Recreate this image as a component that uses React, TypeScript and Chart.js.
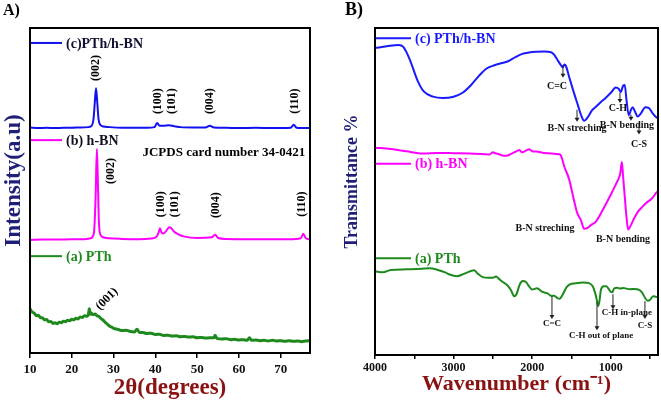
import React, { useEffect, useRef } from "react";
import { Chart, registerables } from "chart.js";

Chart.register(...registerables);

const FONT = "'Liberation Serif', 'Times New Roman', serif";
Chart.defaults.font.family = FONT;

// ---------- Panel A : XRD ----------
const xrdTicks = [10, 20, 30, 40, 50, 60, 70];

// [2θ, intensity (a.u., stacked)]
const xrdComposite: [number, number][] = [
  [10, 69.4], [12, 69.2], [14, 69.3], [16, 69.2], [18, 69.3], [20, 69.3], [22, 69.4], [24, 69.5],
  [24.8, 70], [25.2, 72], [25.5, 77], [25.8, 81.5], [26.1, 77], [26.4, 72], [26.8, 70.2], [27.5, 69.7],
  [29, 69.5], [32, 69.3], [35, 69.3], [38, 69.3], [39.8, 69.5], [40.4, 70.8], [41, 69.9], [42, 69.9],
  [43.2, 70.1], [44.5, 69.8], [46, 69.5], [49, 69.4], [52, 69.4], [53, 69.9], [54, 69.4], [57, 69.3],
  [60, 69.2], [64, 69.3], [68, 69.2], [72.4, 69.3], [73.1, 70.2], [73.8, 69.3], [75, 69.2], [77, 69.2],
];

const xrdHBN: [number, number][] = [
  [10, 34.8], [13, 34.9], [16, 34.9], [20, 35.0], [23, 35.0], [24.5, 35.3], [25.3, 37], [25.7, 48],
  [26.0, 62.8], [26.2, 55], [26.5, 40], [26.9, 36.3], [27.5, 35.6], [29, 35.3], [32, 35.1], [36, 35.0],
  [39, 35.2], [40.3, 35.8], [40.8, 37.2], [41.1, 38.4], [41.5, 37.0], [42.0, 36.8], [42.6, 37.6],
  [43.3, 38.7], [43.8, 38.4], [44.5, 37.3], [45.5, 36.5], [47, 35.8], [50, 35.4], [53.5, 35.6],
  [54.3, 36.4], [55.0, 35.4], [57, 35.1], [61, 35.0], [65, 35.0], [69, 35.0], [72, 35.0], [74.8, 35.3],
  [75.4, 36.7], [76, 35.3], [77, 35.0],
];

const xrdPTh: [number, number][] = [
  [10, 13.6], [10.5, 12.6], [11, 12.3], [11.5, 11.5], [12, 11.6], [12.5, 10.9], [13, 10.8], [13.5, 10.2],
  [14, 10.3], [14.5, 9.6], [15, 9.7], [15.5, 9.1], [16, 9.3], [16.5, 9.0], [17, 9.5], [17.5, 9.3],
  [18, 9.8], [18.5, 9.6], [19, 10.1], [19.5, 9.9], [20, 10.4], [20.5, 10.2], [21, 10.7], [21.5, 10.5],
  [22, 11.1], [22.5, 10.9], [23, 11.5], [23.5, 11.3], [24, 12.0], [24.2, 13.6], [24.4, 11.9], [24.7, 12.3],
  [25, 11.8], [25.5, 12.0], [26, 11.5], [26.5, 11.2], [27, 10.6], [27.5, 10.1], [28, 9.4], [28.5, 8.9],
  [29, 8.3], [29.5, 8.0], [30, 7.6], [31, 7.3], [32, 6.9], [33, 7.0], [34, 6.6], [35, 6.5], [35.6, 7.3],
  [36.2, 6.3], [37, 6.3], [38, 6.0], [39, 6.1], [40, 5.7], [41, 5.8], [42, 5.4], [43, 5.5], [44, 5.2],
  [45, 5.3], [46, 5.0], [47, 5.1], [48, 4.9], [49, 5.0], [50, 4.7], [51, 4.8], [52, 4.6], [53, 4.7],
  [54, 4.7], [54.3, 5.5], [54.7, 4.5], [56, 4.3], [57, 4.4], [58, 4.1], [59, 4.2], [60, 4.0], [61, 4.1],
  [62, 3.9], [62.5, 4.7], [63, 3.9], [64, 4.0], [65, 3.8], [66, 3.9], [67, 3.7], [68, 3.9], [69, 3.7],
  [70, 3.8], [71, 3.6], [72, 3.8], [73, 3.6], [74, 3.7], [75, 3.5], [76, 3.7], [77, 3.8],
];

const xrdLegend = [
  { label: "(c)PTh/h-BN", y: 95.4, line: "#1010f0", text: "#111133" },
  { label: "(b) h-BN", y: 65.5, line: "#ff00ff", text: "#111122" },
  { label: "(a) PTh", y: 29.8, line: "#1e8a1e", text: "#1e8a1e" },
];

// Miller-index labels: text, 2θ, level, rotation (deg)
const xrdPeakLabels: { t: string; x: number; y: number; r: number }[] = [
  { t: "(002)", x: 25.8, y: 87.7, r: -90 },
  { t: "(100)", x: 40.6, y: 77.5, r: -90 },
  { t: "(101)", x: 44.0, y: 77.5, r: -90 },
  { t: "(004)", x: 53.1, y: 77.5, r: -90 },
  { t: "(110)", x: 73.4, y: 77.5, r: -90 },
  { t: "(002)", x: 29.4, y: 56.0, r: -90 },
  { t: "(100)", x: 41.3, y: 45.8, r: -90 },
  { t: "(101)", x: 44.7, y: 45.8, r: -90 },
  { t: "(004)", x: 54.5, y: 45.5, r: -90 },
  { t: "(110)", x: 75.1, y: 45.8, r: -90 },
  { t: "(001)", x: 28.4, y: 16.6, r: -45 },
];

// ---------- Panel B : FTIR ----------
const ftirTicks = [4000, 3500, 3000, 2500, 2000, 1500, 1000, 500];

// [wavenumber, transmittance (stacked)]
const ftirComposite: [number, number][] = [
  [4000, 93.9], [3850, 94.4], [3700, 94.8], [3640, 94.2], [3560, 90.5], [3460, 84], [3380, 80.6],
  [3260, 79.0], [3140, 78.6], [3000, 79.0], [2886, 80.2], [2780, 82.5], [2680, 85.3], [2580, 87.6],
  [2480, 88.6], [2380, 89.3], [2300, 89.9], [2220, 91.0], [2127, 92.1], [2040, 92.5], [1950, 92.7],
  [1850, 92.8], [1760, 92.6], [1720, 91.8], [1680, 90.3], [1640, 88.8], [1612, 88.0], [1590, 88.8],
  [1570, 88.3], [1530, 85], [1480, 81], [1420, 76.5], [1370, 72.8], [1340, 71.6], [1300, 72.5],
  [1240, 74.8], [1190, 75.9], [1120, 77.5], [1063, 78.7], [1000, 80.2], [937, 81.8], [900, 81.4],
  [873, 80.4], [845, 82.3], [823, 82.6], [800, 77.8], [772, 73.3], [745, 74.9], [722, 75.8],
  [690, 74.3], [660, 72.9], [620, 73.8], [560, 75.8], [519, 75.6], [470, 74.0], [418, 72.6], [400, 72.3],
];

const ftirHBN: [number, number][] = [
  [4000, 63.4], [3800, 63.0], [3600, 62.3], [3390, 61.6], [3200, 61.8], [3000, 61.7], [2800, 61.6],
  [2600, 61.4], [2545, 61.3], [2500, 62.0], [2470, 61.7], [2420, 61.4], [2380, 61.0], [2330, 60.9],
  [2260, 61.6], [2200, 62.3], [2165, 62.7], [2130, 62.0], [2080, 62.5], [2040, 62.9], [2000, 62.3],
  [1950, 62.2], [1850, 61.8], [1750, 61.6], [1660, 61.4], [1635, 61.0], [1590, 57.5], [1530, 53.7],
  [1480, 48.5], [1430, 43.6], [1380, 41.2], [1340, 38.6], [1300, 38.8], [1250, 39.8], [1190, 40.8],
  [1100, 44.5], [987, 49.7], [920, 53.0], [880, 55.5], [860, 59.0], [845, 55], [823, 48.5], [800, 42],
  [780, 38.4], [760, 39.0], [700, 42.0], [650, 44.0], [608, 45.1], [550, 46.5], [480, 47.8],
  [418, 49.7], [400, 50.2],
];

const ftirPTh: [number, number][] = [
  [4000, 25.6], [3900, 25.3], [3800, 26.0], [3600, 26.2], [3400, 26.4], [3300, 26.5], [3200, 26.0],
  [3100, 25.2], [3050, 24.6], [2960, 24.1], [2870, 24.8], [2780, 25.7], [2740, 25.9], [2690, 24.8],
  [2630, 23.8], [2560, 23.6], [2500, 23.6], [2460, 24.0], [2420, 23.2], [2380, 22.4], [2320, 21.4],
  [2270, 19.8], [2230, 18.0], [2200, 18.6], [2160, 21.5], [2120, 22.6], [2080, 22.3], [2040, 21.0],
  [2000, 20.0], [1940, 20.4], [1870, 19.3], [1800, 18.8], [1760, 18.1], [1720, 18.1], [1680, 17.4],
  [1650, 17.2], [1610, 18.6], [1560, 20.8], [1500, 21.8], [1420, 22.0], [1350, 22.2], [1280, 22.0],
  [1230, 21.0], [1200, 19.0], [1175, 16.5], [1160, 15.0], [1145, 16.5], [1125, 20.0], [1090, 21.0],
  [1060, 21.0], [1030, 20.3], [1000, 19.3], [980, 19.2], [960, 20.3], [920, 20.6], [880, 20.3],
  [840, 20.5], [800, 20.3], [760, 20.1], [700, 20.2], [640, 19.9], [600, 19.0], [560, 17.3],
  [530, 16.6], [500, 16.9], [460, 18.0], [430, 17.8], [400, 17.6],
];

const ftirLegend = [
  { label: "(c) PTh/h-BN", y: 96.9, line: "#1a1aff", text: "#1a1aff" },
  { label: "(b) h-BN", y: 58.5, line: "#ff00ff", text: "#ff00ff" },
  { label: "(a) PTh", y: 29.6, line: "#1e8a1e", text: "#1e8a1e" },
];

// band annotations: text position (x,y), optional arrow (ax, from y1 to y2), font size
const ftirBands: { t: string; x: number; y: number; ax?: number; y1?: number; y2?: number; s: number }[] = [
  { t: "C=C", x: 1685, y: 82.0, ax: 1609, y1: 88.7, y2: 84.8, s: 10 },
  { t: "B-N streching", x: 1430, y: 69.2, ax: 1430, y1: 75.0, y2: 71.3, s: 10 },
  { t: "C-H", x: 909, y: 75.3, ax: 884, y1: 80.2, y2: 77.1, s: 10 },
  { t: "B-N bending", x: 795, y: 70.1, ax: 744, y1: 73.5, y2: 71.6, s: 10 },
  { t: "C-S", x: 642, y: 64.3, ax: 642, y1: 71.0, y2: 67.4, s: 10 },
  { t: "B-N streching", x: 1838, y: 38.7, s: 10 },
  { t: "B-N bending", x: 845, y: 35.4, s: 10 },
  { t: "C=C", x: 1749, y: 9.5, ax: 1749, y1: 18.0, y2: 11.0, s: 9 },
  { t: "C-H out of plane", x: 1125, y: 5.8, ax: 1176, y1: 16.2, y2: 7.6, s: 9 },
  { t: "C-H in-plane", x: 795, y: 12.8, ax: 973, y1: 18.6, y2: 14.0, s: 9 },
  { t: "C-S", x: 566, y: 9.1, ax: 566, y1: 16.5, y2: 11.0, s: 9 },
];

const NAVY = "#1f1f78";
const MAROON = "#8b1212";

const toPts = (arr: [number, number][]) => arr.map(([x, y]) => ({ x, y }));

function drawFrame(ctx: CanvasRenderingContext2D, ca: any) {
  ctx.strokeStyle = "#000";
  ctx.lineWidth = 2;
  ctx.strokeRect(ca.left, ca.top, ca.right - ca.left, ca.bottom - ca.top);
}

function drawLegend(ctx: CanvasRenderingContext2D, ca: any, yScale: any, items: any[], lineLen: number, gap: number) {
  items.forEach((it) => {
    const py = yScale.getPixelForValue(it.y);
    ctx.strokeStyle = it.line;
    ctx.lineWidth = 2;
    ctx.beginPath();
    ctx.moveTo(ca.left + 1, py);
    ctx.lineTo(ca.left + lineLen, py);
    ctx.stroke();
    ctx.fillStyle = it.text;
    ctx.font = `bold 14px ${FONT}`;
    ctx.textAlign = "left";
    ctx.textBaseline = "middle";
    ctx.fillText(it.label, ca.left + lineLen + gap, py + 1);
  });
}

function rotText(ctx: CanvasRenderingContext2D, text: string, x: number, y: number, deg: number, font: string, color: string) {
  ctx.save();
  ctx.translate(x, y);
  ctx.rotate((deg * Math.PI) / 180);
  ctx.font = font;
  ctx.fillStyle = color;
  ctx.textAlign = "center";
  ctx.textBaseline = "middle";
  ctx.fillText(text, 0, 0);
  ctx.restore();
}

const panelAPlugin = {
  id: "panelA",
  afterDraw(chart: any) {
    const { ctx, chartArea: ca, scales } = chart;
    const xs = scales.x, ys = scales.y;
    ctx.save();
    drawFrame(ctx, ca);
    drawLegend(ctx, ca, ys, xrdLegend, 32, 4);
    xrdPeakLabels.forEach((l) => {
      rotText(ctx, l.t, xs.getPixelForValue(l.x), ys.getPixelForValue(l.y), l.r, `bold 12px ${FONT}`, "#000");
    });
    rotText(ctx, "JCPDS card number 34-0421", xs.getPixelForValue(56.4), ys.getPixelForValue(61.8), 0, `bold 13px ${FONT}`, "#000");
    rotText(ctx, "Intensity(a.u)", ca.left - 16, (ca.top + ca.bottom) / 2 - 10, -90, `bold 23px ${FONT}`, NAVY);
    ctx.font = `bold 16px ${FONT}`;
    ctx.fillStyle = "#000";
    ctx.textAlign = "left";
    ctx.textBaseline = "middle";
    ctx.fillText("A)", 3, 11);
    ctx.restore();
  },
};

const panelBPlugin = {
  id: "panelB",
  afterDraw(chart: any) {
    const { ctx, chartArea: ca, scales } = chart;
    const xs = scales.x, ys = scales.y;
    ctx.save();
    drawFrame(ctx, ca);
    drawLegend(ctx, ca, ys, ftirLegend, 36, 4);
    ftirBands.forEach((b) => {
      if (b.ax !== undefined) {
        const ax = xs.getPixelForValue(b.ax);
        const p1 = ys.getPixelForValue(b.y1);
        const p2 = ys.getPixelForValue(b.y2);
        ctx.strokeStyle = "#222";
        ctx.lineWidth = 1;
        ctx.beginPath();
        ctx.moveTo(ax, p1);
        ctx.lineTo(ax, p2 - 3);
        ctx.stroke();
        ctx.fillStyle = "#222";
        ctx.beginPath();
        ctx.moveTo(ax - 2.5, p2 - 4);
        ctx.lineTo(ax + 2.5, p2 - 4);
        ctx.lineTo(ax, p2);
        ctx.closePath();
        ctx.fill();
      }
      rotText(ctx, b.t, xs.getPixelForValue(b.x), ys.getPixelForValue(b.y), 0, `bold ${b.s}px ${FONT}`, "#111");
    });
    rotText(ctx, "Transmittance %", ca.left - 23, (ca.top + ca.bottom) / 2 - 10, -90, `bold 18px ${FONT}`, NAVY);
    ctx.font = `bold 18px ${FONT}`;
    ctx.fillStyle = "#000";
    ctx.textAlign = "left";
    ctx.textBaseline = "middle";
    ctx.fillText("B)", 15, 10);
    ctx.restore();
  },
};

function lineDs(label: string, pts: [number, number][], color: string, width: number) {
  return {
    label,
    data: toPts(pts),
    borderColor: color,
    backgroundColor: color,
    borderWidth: width,
    pointRadius: 0,
    cubicInterpolationMode: "monotone" as const,
    fill: false,
  };
}

function configA(): any {
  return {
    type: "line",
    data: {
      datasets: [
        lineDs("(c)PTh/h-BN", xrdComposite, "#1010f0", 2),
        lineDs("(b) h-BN", xrdHBN, "#ff00ff", 2),
        lineDs("(a) PTh", xrdPTh, "#1e8a1e", 3),
      ],
    },
    options: {
      responsive: false,
      animation: false,
      devicePixelRatio: 1,
      layout: { padding: { top: 28, right: 20, left: 0, bottom: 0 } },
      plugins: { legend: { display: false }, tooltip: { enabled: false } },
      scales: {
        x: {
          type: "linear",
          min: 10,
          max: 77,
          afterBuildTicks: (s: any) => {
            s.ticks = xrdTicks.map((v) => ({ value: v }));
          },
          afterFit: (s: any) => {
            s.height = 51;
          },
          ticks: { font: { size: 13, weight: "bold" }, color: "#111", padding: 4, maxRotation: 0, autoSkip: false },
          grid: { display: true, drawOnChartArea: false, drawTicks: true, tickLength: 5, color: "#000", lineWidth: 1.5 },
          border: { display: true, color: "#000", width: 2 },
          title: {
            display: true,
            text: "2θ(degrees)",
            color: MAROON,
            font: { size: 23, weight: "bold" },
            padding: { top: 0, bottom: 2 },
          },
        },
        y: {
          type: "linear",
          min: 0,
          max: 100,
          afterFit: (s: any) => {
            s.width = 30;
          },
          ticks: { display: false },
          grid: { display: false },
          border: { display: true, color: "#000", width: 2 },
          title: { display: false },
        },
      },
    },
    plugins: [panelAPlugin],
  };
}

function configB(): any {
  return {
    type: "line",
    data: {
      datasets: [
        lineDs("(c) PTh/h-BN", ftirComposite, "#1a1aff", 2),
        lineDs("(b) h-BN", ftirHBN, "#ff00ff", 2),
        lineDs("(a) PTh", ftirPTh, "#1e8a1e", 2),
      ],
    },
    options: {
      responsive: false,
      animation: false,
      devicePixelRatio: 1,
      layout: { padding: { top: 28, right: 3, left: 0, bottom: 0 } },
      plugins: { legend: { display: false }, tooltip: { enabled: false } },
      scales: {
        x: {
          type: "linear",
          min: 400,
          max: 4000,
          reverse: true,
          afterBuildTicks: (s: any) => {
            s.ticks = ftirTicks.map((v) => ({ value: v }));
          },
          afterFit: (s: any) => {
            s.height = 49;
          },
          ticks: {
            font: { size: 12, weight: "bold" },
            color: "#111",
            padding: 2,
            maxRotation: 0,
            autoSkip: false,
            callback: (v: any) => (Number(v) % 1000 === 0 ? String(v) : ""),
          },
          grid: { display: true, drawOnChartArea: false, drawTicks: true, tickLength: 4, color: "#000", lineWidth: 1.5 },
          border: { display: true, color: "#000", width: 2 },
          title: {
            display: true,
            text: "Wavenumber (cm⁻¹)",
            color: MAROON,
            font: { size: 22, weight: "bold" },
            padding: { top: 0, bottom: 6 },
          },
        },
        y: {
          type: "linear",
          min: 0,
          max: 100,
          afterFit: (s: any) => {
            s.width = 45;
          },
          ticks: { display: false },
          grid: { display: false },
          border: { display: true, color: "#000", width: 2 },
          title: { display: false },
        },
      },
    },
    plugins: [panelBPlugin],
  };
}

export default function App() {
  const refA = useRef<HTMLCanvasElement>(null);
  const refB = useRef<HTMLCanvasElement>(null);
  useEffect(() => {
    const a = new Chart(refA.current as HTMLCanvasElement, configA());
    const b = new Chart(refB.current as HTMLCanvasElement, configB());
    return () => {
      a.destroy();
      b.destroy();
    };
  }, []);
  return (
    <div style={{ position: "absolute", left: 0, top: 0, width: 661, height: 404, background: "#fff" }}>
      <canvas ref={refA} width={330} height={404} style={{ position: "absolute", left: 0, top: 0, width: 330, height: 404 }} />
      <canvas ref={refB} width={331} height={404} style={{ position: "absolute", left: 330, top: 0, width: 331, height: 404 }} />
    </div>
  );
}
